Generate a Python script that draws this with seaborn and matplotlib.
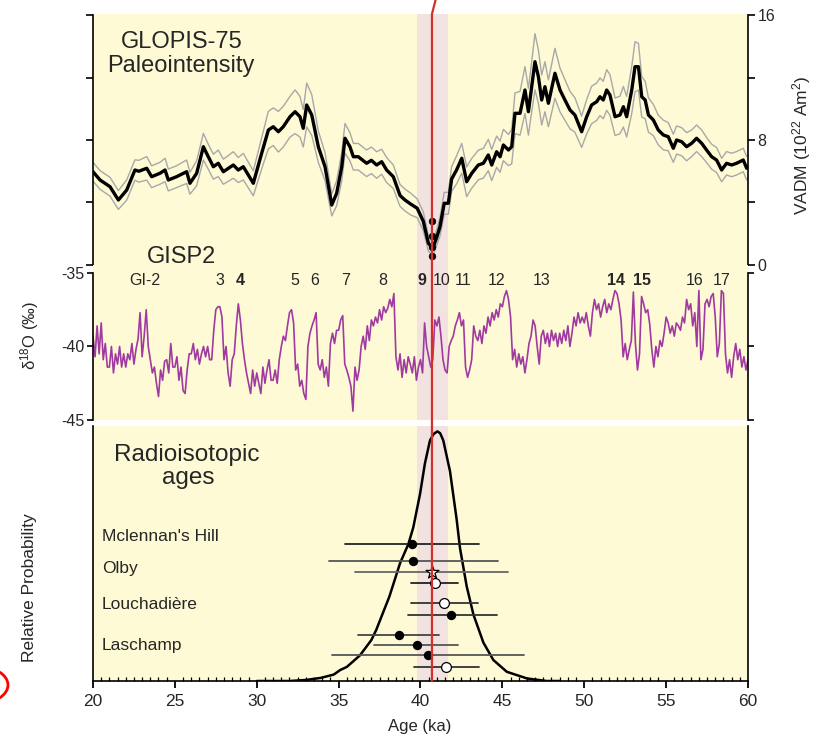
import numpy as np
import pandas as pd
import matplotlib
matplotlib.use("Agg")
import matplotlib.pyplot as plt
import seaborn as sns
from matplotlib.transforms import blended_transform_factory
from matplotlib.lines import Line2D
from matplotlib.patches import Ellipse
from matplotlib.ticker import MultipleLocator

# ---------------- data ----------------
# GLOPIS-75 paleointensity (VADM, 1e22 Am^2) and its uncertainty
vadm_age = [20.0, 20.43, 21.04, 21.55, 22.06, 22.56, 22.8, 23.28, 23.58, 24.09, 24.4, 24.6, 25.1, 25.72, 25.92,
            26.33, 26.74, 27.04, 27.35, 27.65, 27.96, 28.57, 28.87, 29.18, 29.79, 30.3, 30.71, 31.01, 31.32,
            31.62, 32.03, 32.34, 32.64, 32.84, 33.05, 33.36, 33.76, 34.17, 34.58, 34.88, 35.19, 35.39, 35.69,
            35.9, 36.2, 36.71, 37.0, 37.32, 37.63, 37.93, 38.34, 38.75, 39.05, 39.4, 39.8, 40.17, 40.48, 40.75,
            41.0, 41.19, 41.45, 41.7, 41.9, 42.21, 42.52, 42.82, 43.13, 43.53, 43.84, 44.14, 44.35, 44.65,
            44.86, 45.06, 45.37, 45.57, 45.77, 46.08, 46.38, 46.59, 46.79, 46.99, 47.2, 47.4, 47.6, 47.81,
            48.21, 48.52, 48.82, 49.13, 49.43, 49.84, 50.15, 50.45, 50.76, 50.96, 51.16, 51.37, 51.57, 51.88,
            52.18, 52.39, 52.59, 52.9, 53.1, 53.31, 53.51, 53.72, 53.92, 54.22, 54.52, 54.83, 55.13, 55.44,
            55.64, 55.95, 56.25, 56.56, 56.86, 57.17, 57.47, 57.78, 58.08, 58.39, 58.69, 59.0, 59.3, 59.71,
            59.92, 60.0]
vadm = [5.97, 5.44, 5.01, 4.16, 4.8, 6.08, 6.0, 6.19, 5.65, 5.87, 6.08, 5.44, 5.65, 5.97, 5.23,
        5.87, 7.57, 6.93, 6.29, 6.51, 5.97, 6.4, 6.08, 6.29, 5.23, 7.15, 8.64, 8.85, 8.53,
        8.85, 9.49, 9.81, 9.49, 8.75, 10.24, 9.6, 7.57, 6.29, 3.84, 4.59, 6.29, 8.11, 7.57,
        6.93, 6.93, 6.51, 6.7, 6.4, 6.61, 6.08, 5.65, 4.45, 4.16, 3.9, 3.63, 2.8, 1.4, 1.07,
        1.8, 2.45, 3.95, 3.95, 5.5, 6.1, 6.83, 5.33, 5.87, 6.4, 6.51, 7.04, 6.4, 7.25,
        6.93, 7.68, 7.36, 7.57, 9.71, 9.71, 11.2, 9.81, 11.41, 13.01, 12.05, 10.56, 11.41, 10.35,
        12.27, 11.2, 10.56, 9.92, 9.6, 8.53, 9.49, 10.24, 10.45, 10.77, 10.56, 11.2, 10.88, 9.49,
        9.6, 10.13, 9.49, 11.2, 12.69, 12.69, 10.77, 10.56, 9.6, 9.28, 8.64, 8.32, 8.21, 7.47,
        8.0, 7.89, 7.57, 7.79, 8.11, 7.79, 7.36, 6.93, 6.72, 6.08, 6.51, 6.4, 6.51, 6.72,
        6.19, 6.3]
vadm_sigma = [0.6, 0.6, 0.6, 0.6, 0.65, 0.65, 0.7, 0.75, 0.7, 0.7, 0.75, 0.7, 0.7, 0.75, 0.7,
              0.8, 0.85, 0.8, 0.8, 0.85, 0.8, 0.85, 0.8, 0.85, 0.8, 1.0, 1.2, 1.2, 1.3,
              1.3, 1.3, 1.4, 1.3, 1.2, 1.4, 1.3, 1.0, 0.9, 0.7, 0.8, 0.9, 0.95, 0.9,
              0.85, 0.85, 0.85, 0.85, 0.85, 0.8, 0.8, 0.75, 0.7, 0.7, 0.7, 0.6, 0.6, 0.5, 0.5,
              0.5, 0.6, 0.7, 0.7, 0.8, 0.9, 0.95, 0.95, 0.95, 0.95, 0.95, 1.0, 1.0, 1.0,
              1.0, 1.0, 1.0, 1.1, 1.3, 1.4, 1.5, 1.5, 1.6, 1.8, 1.7, 1.6, 1.6, 1.5,
              1.6, 1.4, 1.3, 1.2, 1.1, 1.0, 1.1, 1.2, 1.2, 1.2, 1.2, 1.3, 1.3, 1.2,
              1.2, 1.3, 1.3, 1.5, 1.6, 1.5, 1.3, 1.2, 1.1, 1.0, 0.95, 0.95, 0.9, 0.9,
              0.9, 0.9, 0.9, 0.85, 0.85, 0.85, 0.8, 0.8, 0.8, 0.75, 0.75, 0.75, 0.75, 0.75,
              0.75, 0.75]
# paleointensity data points at the excursion
excursion_age = 40.72
excursion_vadm = [2.84, 1.86, 1.17, 0.56]

# GISP2 d18O (permil), sampled every 0.125 ka from 20 ka
gisp_start, gisp_step = 20.0, 0.125
d18o = [
    -39.3, -40.7, -38.6, -40.5, -38.4, -40.9, -39.8, -41.4,
    -41.4, -40.0, -41.8, -40.5, -41.2, -40.0, -41.4, -40.5,
    -41.4, -40.5, -40.9, -39.8, -41.2, -40.2, -39.5, -37.7,
    -40.7, -39.3, -37.5, -40.0, -40.9, -41.8, -41.4, -42.5,
    -43.4, -41.6, -42.3, -41.0, -40.9, -41.8, -39.8, -41.4,
    -41.4, -40.7, -42.3, -41.4, -43.0, -43.2, -41.6, -40.5,
    -40.5, -39.8, -40.9, -40.2, -41.2, -40.5, -40.0, -40.7,
    -40.0, -40.9, -40.9, -38.9, -37.5, -37.3, -37.3, -38.0,
    -40.9, -40.0, -41.8, -42.7, -40.9, -40.5, -38.6, -37.1,
    -38.2, -39.8, -40.9, -41.8, -42.5, -43.2, -41.6, -42.7,
    -41.8, -42.5, -43.2, -41.4, -42.5, -41.6, -40.9, -42.3,
    -42.3, -41.6, -42.5, -40.9, -40.0, -39.3, -39.6, -38.6,
    -37.7, -37.5, -38.4, -41.6, -41.2, -42.7, -42.3, -43.2,
    -43.6, -40.0, -39.1, -38.6, -38.2, -37.7, -41.2, -41.6,
    -40.9, -42.1, -41.4, -42.7, -39.8, -39.1, -39.8, -38.9,
    -38.9, -38.2, -37.9, -41.2, -41.6, -42.1, -42.7, -44.4,
    -41.4, -42.3, -41.6, -40.0, -39.3, -40.2, -38.6, -39.6,
    -38.2, -38.6, -38.0, -38.4, -37.5, -38.2, -37.3, -37.7,
    -37.4, -36.8, -37.3, -36.4, -40.7, -41.6, -40.5, -42.1,
    -40.9, -41.8, -40.7, -41.2, -41.8, -40.7, -42.3, -41.4,
    -40.9, -41.8, -38.4, -40.0, -40.7, -41.4, -40.9, -38.2,
    -38.6, -38.0, -39.3, -40.9, -41.6, -41.8, -40.0, -39.6,
    -39.3, -38.6, -38.2, -37.7, -38.6, -38.2, -41.4, -42.1,
    -41.6, -40.9, -38.6, -39.3, -39.6, -38.9, -39.8, -38.6,
    -39.1, -38.0, -38.6, -37.7, -38.2, -37.5, -38.0, -37.1,
    -37.3, -36.6, -36.2, -36.8, -38.0, -40.9, -40.2, -41.4,
    -40.5, -41.2, -40.7, -41.8, -40.9, -39.8, -39.3, -38.2,
    -38.6, -40.0, -41.2, -39.3, -38.9, -39.8, -39.1, -40.0,
    -38.9, -39.6, -39.1, -40.0, -39.1, -39.8, -38.9, -39.6,
    -38.6, -40.0, -39.1, -38.0, -38.6, -37.7, -38.4, -38.0,
    -38.4, -37.7, -38.6, -39.3, -37.7, -36.8, -37.5, -37.1,
    -38.0, -37.3, -36.8, -37.7, -37.1, -37.5, -36.8, -36.2,
    -36.4, -37.1, -38.2, -40.7, -39.8, -40.9, -40.2, -39.6,
    -36.3, -39.8, -41.6, -40.5, -36.6, -37.1, -37.7, -37.5,
    -38.5, -40.2, -41.4, -40.0, -40.7, -39.6, -40.0, -39.1,
    -38.0, -38.4, -39.1, -38.6, -39.3, -38.4, -38.6, -38.9,
    -38.0, -38.4, -36.8, -37.5, -37.1, -38.6, -37.7, -40.0,
    -36.2, -40.9, -40.2, -37.1, -36.8, -37.3, -36.6, -36.4,
    -38.0, -40.7, -39.8, -36.2, -36.4, -40.5, -41.8, -40.9,
    -42.1, -40.7, -39.8, -40.9, -40.2, -41.4, -40.7, -41.6,
    -40.9]

# Greenland interstadial labels
gi_labels = ["GI-2", "3", "4", "5", "6", "7", "8", "9", "10", "11", "12", "13", "14", "15", "16", "17"]
gi_ages = [23.18, 27.76, 28.98, 32.3, 33.56, 35.43, 37.69, 40.07, 41.29, 42.62, 44.65, 47.4, 51.94, 53.51, 56.76, 58.39]
gi_bold = ["4", "9", "14", "15"]

# radioisotopic age probability curve
prob_age = [30.0, 32.0, 33.0, 33.9, 34.7, 35.1, 35.5, 36.3, 37.0, 37.3, 38.1, 38.75, 39.26, 39.56, 39.97,
            40.27, 40.58, 40.8, 41.03, 41.2, 41.39, 41.8, 42.21, 42.41, 42.82, 43.23, 43.84, 44.45, 45.27,
            46.5, 47.7, 48.5]
prob = [0.0, 0.0, 0.004, 0.012, 0.025, 0.043, 0.055, 0.1, 0.16, 0.2, 0.33, 0.46, 0.535, 0.6, 0.73,
        0.85, 0.94, 0.965, 0.975, 0.968, 0.94, 0.82, 0.63, 0.52, 0.37, 0.26, 0.15, 0.082, 0.036,
        0.01, 0.0, 0.0]

# individual radioisotopic ages (centre, lower, upper), rows top to bottom
date_age = [39.5, 39.55, 40.72, 40.89, 41.46, 41.84, 38.67, 39.79, 40.45, 41.58]
date_lo = [35.4, 34.4, 36.0, 39.45, 39.45, 39.25, 36.2, 37.15, 34.6, 39.6]
date_hi = [43.55, 44.75, 45.35, 42.3, 43.5, 44.65, 41.15, 42.3, 46.35, 43.55]
date_row = [0.535, 0.468, 0.427, 0.384, 0.303, 0.256, 0.18, 0.14, 0.1, 0.056]
date_kind = ["filled", "filled", "star", "open", "open", "filled", "filled", "filled", "filled", "open"]
date_linecol = ["#222222", "#555555", "#666666", "#222222", "#333333", "#333333", "#444444", "#555555", "#555555", "#333333"]

sites = ["Mclennan's Hill", "Olby", "Louchadière", "Laschamp"]
site_row = [0.566, 0.441, 0.297, 0.14]

laschamp_age = 40.7
band_lo, band_hi = 39.8, 41.7

# ---------------- style ----------------
sns.set_theme(style="white")
plt.rcParams["font.family"] = ["Liberation Sans", "DejaVu Sans"]
plt.rcParams["mathtext.fontset"] = "custom"
plt.rcParams["mathtext.rm"] = "Liberation Sans"
plt.rcParams["mathtext.it"] = "Liberation Sans:italic"

YELLOW = "#fefad5"
PINK = "#f2e3e0"
PURPLE = "#a03aa0"
RED = "#d2302b"

W, H = 817, 735
fig = plt.figure(figsize=(W / 100, H / 100), dpi=100)


def rect(x0, y0, x1, y1):
    return [x0 / W, 1 - y1 / H, (x1 - x0) / W, (y1 - y0) / H]


ax1 = fig.add_axes(rect(93, 14, 748, 265))
ax2 = fig.add_axes(rect(93, 265, 748, 420))
ax3 = fig.add_axes(rect(93, 426, 748, 681))

for ax in (ax1, ax2, ax3):
    ax.set_facecolor(YELLOW)
    ax.set_xlim(20, 60)
    ax.axvspan(band_lo, band_hi, color=PINK, lw=0, zorder=0.5)
    for s in ax.spines.values():
        s.set_color("black")
        s.set_linewidth(1.2)

# ---- top: paleointensity ----
df_v = pd.DataFrame({"age": vadm_age, "vadm": vadm, "sig": vadm_sigma})
df_v["upper"] = df_v["vadm"] + df_v["sig"]
df_v["lower"] = df_v["vadm"] - df_v["sig"]
sns.lineplot(data=df_v, x="age", y="upper", ax=ax1, color="#a8a8a8", lw=1.0, estimator=None, sort=False)
sns.lineplot(data=df_v, x="age", y="lower", ax=ax1, color="#a8a8a8", lw=1.0, estimator=None, sort=False)
sns.lineplot(data=df_v, x="age", y="vadm", ax=ax1, color="black", lw=2.4, estimator=None, sort=False)
sns.scatterplot(x=[excursion_age] * len(excursion_vadm), y=excursion_vadm, ax=ax1, color="black",
                s=24, edgecolor="black", zorder=6)
ax1.set_ylim(0, 16 * 251 / 250)
ax1.set_yticks([0, 4, 8, 12, 16])
ax1.set_yticklabels(["0", "", "8", "", "16"])
ax1.tick_params(axis="y", which="both", left=True, right=True, labelleft=False, labelright=True,
                direction="out", length=5, width=1.2, color="black", labelsize=11.5, pad=2)
ax1.set_xticks([])
ax1.spines["top"].set_visible(False)
ax1.spines["bottom"].set_visible(False)
ax1.spines["left"].set_bounds(0, 16)
ax1.spines["right"].set_bounds(0, 16)
ax1.set_xlabel("")
ax1.set_ylabel("")

# ---- middle: GISP2 ----
gisp_age = gisp_start + gisp_step * np.arange(len(d18o))
df_g = pd.DataFrame({"age": gisp_age, "d18o": d18o})
sns.lineplot(data=df_g, x="age", y="d18o", ax=ax2, color=PURPLE, lw=1.2, estimator=None, sort=False)
ax2.set_ylim(-45, -34.46)
ax2.set_yticks([-45, -40, -35])
ax2.set_yticklabels(["-45", "-40", "-35"])
ax2.tick_params(axis="y", which="both", left=True, right=True, labelleft=True, labelright=False,
                direction="out", length=4, width=1.2, color="black", labelsize=11.5, pad=2)
ax2.set_xticks([])
ax2.spines["top"].set_visible(False)
ax2.spines["bottom"].set_visible(False)
ax2.spines["left"].set_bounds(-45, -35)
ax2.spines["right"].set_bounds(-45, -35)
ax2.set_xlabel("")
ax2.set_ylabel("")
for lab, a in zip(gi_labels, gi_ages):
    ax2.text(a, -35.52, lab, ha="center", va="center", fontsize=11.5,
             fontweight="bold" if lab in gi_bold else "normal", zorder=5)

# ---- bottom: radioisotopic ages ----
df_p = pd.DataFrame({"age": prob_age, "p": prob})
sns.lineplot(data=df_p, x="age", y="p", ax=ax3, color="black", lw=1.8, estimator=None, sort=False, zorder=4)
for c, lo, hi, r, kind, lc in zip(date_age, date_lo, date_hi, date_row, date_kind, date_linecol):
    ax3.plot([lo, hi], [r, r], color=lc, lw=1.3, zorder=5)
for kind, mk, fc, sz in [("filled", "o", "black", 34), ("open", "o", "white", 50), ("star", "*", "white", 95)]:
    xs = [c for c, k in zip(date_age, date_kind) if k == kind]
    ys = [r for r, k in zip(date_row, date_kind) if k == kind]
    sns.scatterplot(x=xs, y=ys, ax=ax3, marker=mk, s=sz, color=fc, edgecolor="black", linewidth=0.9, zorder=7)
for s, r in zip(sites, site_row):
    ax3.text(20.55, r, s, ha="left", va="center", fontsize=12.5)
ax3.set_ylim(0, 255 / 256)
ax3.set_yticks([])
ax3.xaxis.set_major_locator(MultipleLocator(5))
ax3.xaxis.set_minor_locator(MultipleLocator(0.5))
ax3.tick_params(axis="x", which="major", bottom=True, direction="out", length=5, width=1.3,
                color="black", labelsize=12.5, pad=4)
ax3.tick_params(axis="x", which="minor", bottom=True, direction="in", length=3, width=0.9, color="black")
ax3.spines["top"].set_visible(False)
ax3.set_xlabel("")
ax3.set_ylabel("")

# ---- titles and axis labels ----
fig.text(182 / W, 1 - 42 / H, "GLOPIS-75", ha="center", va="center", fontsize=17)
fig.text(181 / W, 1 - 66 / H, "Paleointensity", ha="center", va="center", fontsize=17)
fig.text(182 / W, 1 - 257 / H, "GISP2", ha="center", va="center", fontsize=17)
fig.text(187 / W, 1 - 455 / H, "Radioisotopic", ha="center", va="center", fontsize=17.5)
fig.text(188 / W, 1 - 478 / H, "ages", ha="center", va="center", fontsize=17.5)
fig.text(802 / W, 1 - 145 / H, "VADM (10$^{22}$ Am$^{2}$)", ha="center", va="center", rotation=90, fontsize=12.5)
fig.text(30 / W, 1 - 335 / H, "δ$^{18}$O (‰)", ha="center", va="center", rotation=90, fontsize=12)
fig.text(30 / W, 1 - 588 / H, "Relative Probability", ha="center", va="center", rotation=90, fontsize=12.5)
fig.text(420 / W, 1.5 / H, "Age (ka)", ha="center", va="bottom", fontsize=12)

# ---- red excursion line across all panels ----
trans = blended_transform_factory(ax3.transData, fig.transFigure)
fig.add_artist(Line2D([laschamp_age, laschamp_age, laschamp_age + 0.22],
                      [1 - 681 / H, 1 - 14 / H, 1.0], transform=trans, color=RED, lw=1.6, zorder=10))

# ---- partial red annotation ellipse at lower-left edge ----
fig.add_artist(Ellipse((-20 / W, 1 - 685 / H), 56 / W, 36 / H, transform=fig.transFigure,
                       fill=False, edgecolor="red", lw=2, clip_on=False))

fig.savefig("out.png", dpi=100)
